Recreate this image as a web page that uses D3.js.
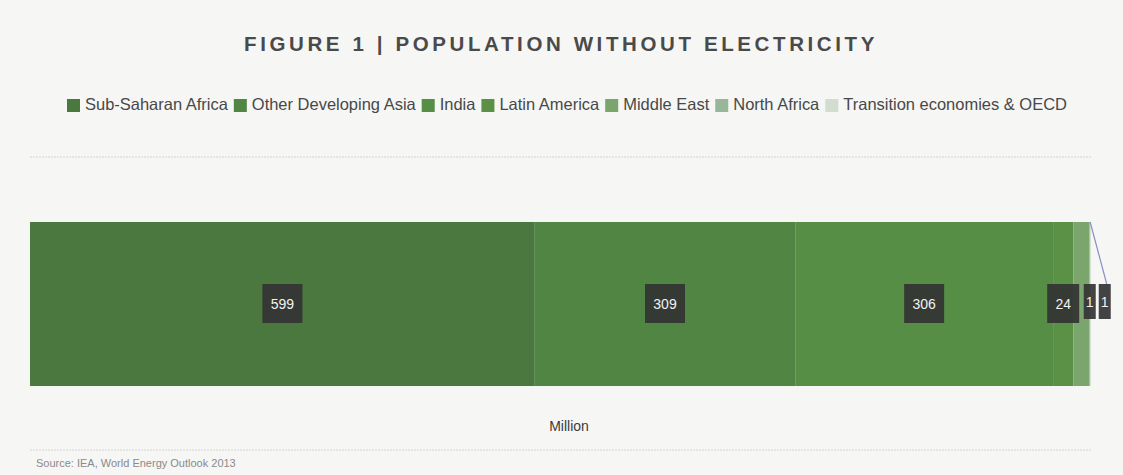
<!DOCTYPE html>
<html><head><meta charset="utf-8">
<script src="https://cdn.jsdelivr.net/npm/d3@7"></script>
<style>
html,body{margin:0;padding:0;background:#f6f6f5;}
svg{display:block;font-family:"Liberation Sans",Arial,sans-serif;}
</style></head>
<body><svg id="c" width="1123" height="475"></svg>
<script>
const categories = ["Sub-Saharan Africa","Other Developing Asia","India","Latin America","Middle East","North Africa","Transition economies & OECD"];
const values = [599, 309, 306, 24, 19, 1, 1];
const colors = ["#4a783f","#518543","#568e45","#5a9146","#7aa66d","#98b79a","#d2ddd0"];
const titleText = "FIGURE 1 | POPULATION WITHOUT ELECTRICITY";
const axisLabel = "Million";
const sourceText = "Source: IEA, World Energy Outlook 2013";

const W = 1123, H = 475;
const svg = d3.select("#c");
svg.append("rect").attr("width",W).attr("height",H).attr("fill","#f6f6f5");

const title = svg.append("text").attr("x",561).attr("y",51).attr("text-anchor","middle")
  .attr("font-size",20.5).attr("font-weight","bold")
  .attr("fill","#4a4a4a").text(titleText);
const tw0 = title.node().getComputedTextLength();
title.attr("letter-spacing",(634 - tw0)/(titleText.length));

// legend
const lg = svg.append("g");
const fs0 = 14;
const items=[];
categories.forEach((c,i)=>{
  const g = lg.append("g");
  g.append("rect").attr("x",0).attr("y",-11).attr("width",13).attr("height",13).attr("fill",colors[i]);
  const t = g.append("text").attr("x",18).attr("y",0).attr("font-size",fs0).attr("fill","#484848").text(c);
  items.push({g,t,w:t.node().getComputedTextLength()});
});
const gap = 6;
const sumW0 = d3.sum(items,d=>d.w);
const fs = fs0 * (1001 - items.length*18 - gap*(items.length-1))/sumW0;
let lx = 0;
items.forEach(it=>{
  it.t.attr("font-size",fs);
  const w = it.t.node().getComputedTextLength();
  it.g.attr("transform",`translate(${lx},0)`); lx += 18+w+gap; });
lg.attr("transform",`translate(67,110)`);

// separators
[157,450].forEach(y=>svg.append("line").attr("x1",30).attr("x2",1091).attr("y1",y).attr("y2",y)
  .attr("stroke","#d4d4d4").attr("stroke-width",1).attr("stroke-dasharray","2,1"));

const total = d3.sum(values);
const x = d3.scaleLinear().domain([0,total]).range([30,1091]);
const y = d3.scaleBand().domain(["all"]).range([222,386]);
const cum = d3.cumsum(values);
const segs = values.map((v,i)=>({v,i,x0:cum[i]-v,x1:cum[i]}));

svg.append("g").selectAll("rect").data(segs).join("rect")
  .attr("x",d=>x(d.x0)).attr("width",d=>Math.max(0,x(d.x1)-x(d.x0)))
  .attr("y",y("all")).attr("height",y.bandwidth()).attr("fill",d=>colors[d.i]);

// labels with simple overlap handling
const cy = y("all")+y.bandwidth()/2;
const lgG = svg.append("g");
let prevRight = -Infinity;
segs.forEach(d=>{
  const txt = String(d.v);
  const tw = txt.length*8;
  const bw = tw + (txt.length>1?16:4);
  let cx = (x(d.x0)+x(d.x1))/2;
  const segW = x(d.x1)-x(d.x0);
  if (cx - bw/2 < prevRight + 3) {
    if (segW < 5) cx = prevRight + 3 + bw/2;
    else return; // hidden by overlap
  }
  const bh = d.v>=10 ? 39 : 35;
  const top = cy - 20;
  if (cx > x.range()[1] + 4) {
    lgG.append("line").attr("x1",x(d.x0)).attr("y1",y("all"))
      .attr("x2",cx+2).attr("y2",top).attr("stroke","#8a8fc4").attr("stroke-width",1.2);
  }
  lgG.append("rect").attr("x",cx-bw/2).attr("y",top).attr("width",bw).attr("height",bh)
    .attr("fill","#333333").attr("opacity",0.92);
  lgG.append("text").attr("x",cx).attr("y",top+bh/2+5).attr("text-anchor","middle")
    .attr("font-size",14).attr("fill","#f2f2f2").text(txt);
  prevRight = cx + bw/2;
});

svg.append("text").attr("x",569).attr("y",431).attr("text-anchor","middle")
  .attr("font-size",14).attr("fill","#3a3a3a").text(axisLabel);
svg.append("text").attr("x",36).attr("y",467).attr("font-size",11).attr("fill","#8a8a8a").text(sourceText);
</script></body></html>
